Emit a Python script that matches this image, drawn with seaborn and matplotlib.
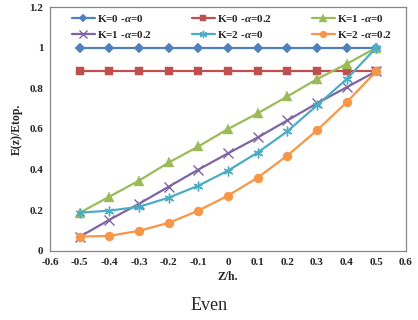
import matplotlib
matplotlib.use('Agg')
import matplotlib.pyplot as plt
import numpy as np
import pandas as pd
import seaborn as sns

# 数据：从图中读取
z = [-0.5, -0.4, -0.3, -0.2, -0.1, 0.0, 0.1, 0.2, 0.3, 0.4, 0.5]
k0_a0 = [1.0, 1.0, 1.0, 1.0, 1.0, 1.0, 1.0, 1.0, 1.0, 1.0, 1.0]
k0_a02 = [0.884, 0.884, 0.884, 0.884, 0.884, 0.884, 0.884, 0.884, 0.884, 0.884, 0.884]
k1_a0 = [0.188, 0.267, 0.346, 0.435, 0.514, 0.600, 0.677, 0.760, 0.845, 0.920, 1.0]
k1_a02 = [0.070, 0.153, 0.232, 0.316, 0.400, 0.480, 0.558, 0.642, 0.726, 0.805, 0.884]
k2_a0 = [0.188, 0.198, 0.217, 0.262, 0.321, 0.395, 0.484, 0.588, 0.716, 0.845, 1.0]
k2_a02 = [0.070, 0.074, 0.099, 0.138, 0.198, 0.272, 0.360, 0.469, 0.593, 0.731, 0.884]

labels = ['K=0 -$\\alpha$=0', 'K=0 -$\\alpha$=0.2', 'K=1 -$\\alpha$=0',
          'K=1 -$\\alpha$=0.2', 'K=2 -$\\alpha$=0', 'K=2 -$\\alpha$=0.2']
series = [k0_a0, k0_a02, k1_a0, k1_a02, k2_a0, k2_a02]
colors = ['#4F81BD', '#C0504D', '#9BBB59', '#8064A2', '#4BACC6', '#F79646']
markers = ['D', 's', '^', 'x', (6, 2, 0), 'o']
msizes = [5, 6, 7, 7, 7, 6.5]

rows = []
for lab, vals in zip(labels, series):
    for zz, v in zip(z, vals):
        rows.append({'Z': zz, 'E': v, 'series': lab})
df = pd.DataFrame(rows)

sns.set_style('white')
plt.rcParams['font.family'] = ['Liberation Serif', 'DejaVu Serif']
plt.rcParams['mathtext.fontset'] = 'custom'
plt.rcParams['mathtext.it'] = 'Liberation Serif:italic:bold'
plt.rcParams['mathtext.rm'] = 'Liberation Serif:bold'

fig = plt.figure(figsize=(4.18, 3.2), dpi=100)
ax = fig.add_axes([0.12, 0.216, 0.851, 0.762])

for lab, c, m, ms in zip(labels, colors, markers, msizes):
    sub = df[df['series'] == lab]
    sns.lineplot(data=sub, x='Z', y='E', ax=ax, color=c, marker=m,
                 markersize=ms, linewidth=1.6, label=lab,
                 markeredgecolor=c, markeredgewidth=1.0 if m in ('x', (6, 2, 0)) else 0.3)

ax.set_xlim(-0.6, 0.6)
ax.set_ylim(0, 1.2)
ax.set_xticks(np.round(np.arange(-0.6, 0.61, 0.1), 1))
ax.set_xticklabels(['-0.6', '-0.5', '-0.4', '-0.3', '-0.2', '-0.1', '0',
                    '0.1', '0.2', '0.3', '0.4', '0.5', '0.6'])
ax.set_yticks([0, 0.2, 0.4, 0.6, 0.8, 1.0, 1.2])
ax.set_yticklabels(['0', '0.2', '0.4', '0.6', '0.8', '1', '1.2'])
ax.tick_params(axis='both', direction='out', length=3, width=0.8, color='#868686',
               labelsize=8, pad=2)
for t in ax.get_xticklabels() + ax.get_yticklabels():
    t.set_fontweight('bold')
for s in ax.spines.values():
    s.set_color('#868686')
    s.set_linewidth(0.9)

ax.set_xlabel('Z/h.', fontsize=8.5, fontweight='bold', labelpad=3)
ax.set_ylabel('E(z)/Etop.', fontsize=8.5, fontweight='bold', labelpad=5)

# 图例按行排列
handles, labs = ax.get_legend_handles_labels()
order = [0, 3, 1, 4, 2, 5]
leg = ax.legend([handles[i] for i in order], [labs[i] for i in order], ncol=3,
                loc='upper center', bbox_to_anchor=(0.51, 1.015),
                frameon=False, prop={'size': 8, 'weight': 'bold'},
                handlelength=2.1, columnspacing=3.6, handletextpad=0.15,
                labelspacing=0.45, markerscale=0.75)

fig.text(0.5, 0.045, 'Even', ha='center', va='center', fontsize=13)

fig.savefig('out.png', dpi=100)
